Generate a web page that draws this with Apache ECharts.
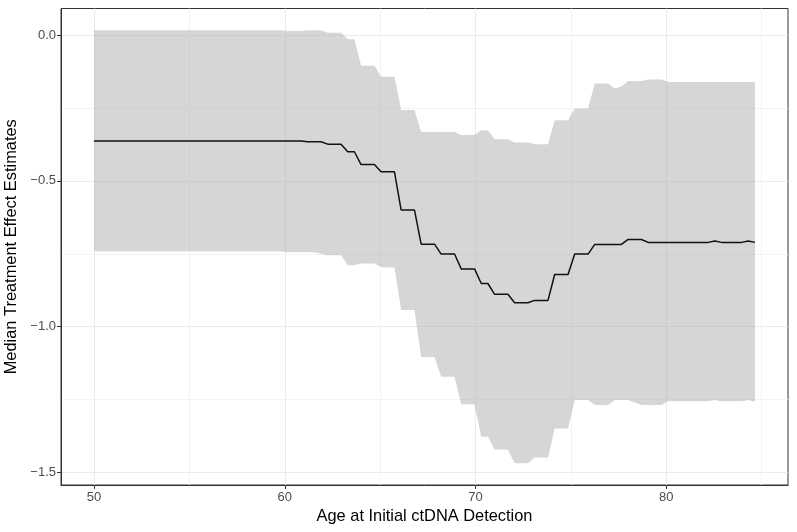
<!DOCTYPE html>
<html><head><meta charset="utf-8">
<script src="https://cdn.jsdelivr.net/npm/echarts@6/dist/echarts.min.js"></script>
<style>html,body{margin:0;padding:0;background:#fff}#c{width:797px;height:532px}</style>
</head><body><div id="c"></div>
<script>
const ages = [
  50, 50.35, 50.7, 51.05, 51.4, 51.75, 52.1, 52.45, 52.8, 53.15,
  53.5, 53.85, 54.2, 54.55, 54.9, 55.25, 55.6, 55.95, 56.3, 56.65,
  57, 57.35, 57.7, 58.05, 58.4, 58.75, 59.1, 59.45, 59.8, 60.15,
  60.5, 60.85, 61.2, 61.55, 61.9, 62.25, 62.6, 62.95, 63.3, 63.65,
  64, 64.35, 64.7, 65.05, 65.4, 65.75, 66.1, 66.45, 66.8, 67.15,
  67.5, 67.85, 68.2, 68.55, 68.9, 69.25, 69.6, 69.95, 70.3, 70.65,
  71, 71.35, 71.7, 72.05, 72.4, 72.75, 73.1, 73.45, 73.8, 74.15,
  74.5, 74.85, 75.2, 75.55, 75.9, 76.25, 76.6, 76.95, 77.3, 77.65,
  78, 78.35, 78.7, 79.05, 79.4, 79.75, 80.1, 80.45, 80.8, 81.15,
  81.5, 81.85, 82.2, 82.55, 82.9, 83.25, 83.6, 83.95, 84.3, 84.65
];
const median = [
  -0.363, -0.363, -0.363, -0.363, -0.363, -0.363, -0.363, -0.363, -0.363, -0.363,
  -0.363, -0.363, -0.363, -0.363, -0.363, -0.363, -0.363, -0.363, -0.363, -0.363,
  -0.363, -0.363, -0.363, -0.363, -0.363, -0.363, -0.363, -0.363, -0.363, -0.363,
  -0.363, -0.363, -0.366, -0.366, -0.366, -0.374, -0.374, -0.374, -0.400, -0.400,
  -0.444, -0.444, -0.444, -0.469, -0.469, -0.469, -0.600, -0.600, -0.600, -0.717,
  -0.717, -0.717, -0.751, -0.751, -0.751, -0.802, -0.802, -0.802, -0.852, -0.852,
  -0.889, -0.889, -0.889, -0.918, -0.918, -0.918, -0.910, -0.910, -0.910, -0.821,
  -0.821, -0.821, -0.751, -0.751, -0.751, -0.718, -0.718, -0.718, -0.718, -0.718,
  -0.701, -0.701, -0.701, -0.711, -0.711, -0.711, -0.711, -0.711, -0.711, -0.711,
  -0.711, -0.711, -0.711, -0.706, -0.711, -0.711, -0.711, -0.711, -0.706, -0.711
];
const upper = [
  0.017, 0.017, 0.017, 0.017, 0.017, 0.017, 0.017, 0.017, 0.017, 0.017,
  0.017, 0.017, 0.017, 0.017, 0.017, 0.017, 0.017, 0.017, 0.017, 0.017,
  0.017, 0.017, 0.017, 0.017, 0.017, 0.017, 0.017, 0.017, 0.017, 0.014,
  0.014, 0.014, 0.017, 0.017, 0.017, 0.008, 0.008, 0.008, -0.014, -0.014,
  -0.105, -0.105, -0.105, -0.143, -0.143, -0.143, -0.257, -0.257, -0.257, -0.332,
  -0.332, -0.332, -0.332, -0.332, -0.332, -0.343, -0.343, -0.343, -0.326, -0.326,
  -0.357, -0.357, -0.357, -0.368, -0.368, -0.368, -0.374, -0.374, -0.374, -0.292,
  -0.292, -0.292, -0.252, -0.252, -0.252, -0.166, -0.166, -0.166, -0.183, -0.176,
  -0.157, -0.157, -0.157, -0.152, -0.152, -0.152, -0.161, -0.161, -0.161, -0.161,
  -0.161, -0.161, -0.161, -0.161, -0.161, -0.161, -0.161, -0.161, -0.161, -0.161
];
const lower = [
  -0.741, -0.741, -0.741, -0.741, -0.741, -0.741, -0.741, -0.741, -0.741, -0.741,
  -0.741, -0.741, -0.741, -0.741, -0.741, -0.741, -0.741, -0.741, -0.741, -0.741,
  -0.741, -0.741, -0.741, -0.741, -0.741, -0.741, -0.741, -0.741, -0.741, -0.745,
  -0.745, -0.745, -0.745, -0.745, -0.750, -0.755, -0.755, -0.755, -0.789, -0.789,
  -0.783, -0.783, -0.783, -0.795, -0.797, -0.797, -0.943, -0.943, -0.943, -1.104,
  -1.104, -1.104, -1.172, -1.172, -1.172, -1.266, -1.266, -1.266, -1.378, -1.378,
  -1.421, -1.421, -1.421, -1.469, -1.469, -1.469, -1.449, -1.449, -1.449, -1.349,
  -1.349, -1.349, -1.252, -1.252, -1.252, -1.269, -1.269, -1.269, -1.252, -1.252,
  -1.252, -1.260, -1.269, -1.269, -1.269, -1.269, -1.256, -1.256, -1.256, -1.256,
  -1.256, -1.256, -1.256, -1.252, -1.256, -1.256, -1.256, -1.256, -1.252, -1.258
];
const xMajorTicks = [50, 60, 70, 80];
const xMinorTicks = [55, 65, 75, 85];
const yMajorTicks = [-1.5, -1.0, -0.5, 0.0];
const yMinorTicks = [-1.25, -0.75, -0.25];
const xTitle = 'Age at Initial ctDNA Detection';
const yTitle = 'Median Treatment Effect Estimates';

const FONT = '"Liberation Sans", Arial, sans-serif';
const XMIN = 48.2675, XMAX = 86.3825, YMIN = -1.5432, YMAX = 0.0913;
const fmtY = v => (v < 0 ? '\u2212' : '') + Math.abs(v).toFixed(1);

const chart = echarts.init(document.getElementById('c'), null, {renderer: 'canvas'});
chart.setOption({
  animation: false,
  backgroundColor: '#ffffff',
  grid: {left: 61, right: 9, top: 8.5, bottom: 47, show: true, borderColor: '#333333', borderWidth: 1, backgroundColor: 'transparent', containLabel: false, outerBoundsMode: 'none'},
  xAxis: [
    {
      type: 'value', min: XMIN, max: XMAX, position: 'bottom',
      axisLine: {show: true, onZero: false, lineStyle: {color: '#333333', width: 1}},
      axisTick: {show: true, length: 4, customValues: xMajorTicks, lineStyle: {color: '#333333', width: 1}},
      axisLabel: {customValues: xMajorTicks, color: '#4D4D4D', fontSize: 13, margin: 6, fontFamily: FONT},
      splitLine: {show: true, lineStyle: {color: '#EBEBEB', width: 1}},
      name: xTitle, nameLocation: 'middle', nameGap: 22,
      nameTextStyle: {color: '#000000', fontSize: 16.4, fontFamily: FONT}
    },
    {
      type: 'value', min: XMIN, max: XMAX, position: 'top',
      axisLine: {show: false}, axisTick: {show: false, customValues: xMinorTicks},
      axisLabel: {show: false, customValues: xMinorTicks},
      splitLine: {show: true, lineStyle: {color: '#F3F3F3', width: 1}}
    }
  ],
  yAxis: [
    {
      type: 'value', min: YMIN, max: YMAX, position: 'left',
      axisLine: {show: true, onZero: false, lineStyle: {color: '#333333', width: 1}},
      axisTick: {show: true, length: 4, customValues: yMajorTicks, lineStyle: {color: '#333333', width: 1}},
      axisLabel: {customValues: yMajorTicks, color: '#4D4D4D', fontSize: 13, margin: 5, fontFamily: FONT, formatter: fmtY},
      splitLine: {show: true, lineStyle: {color: '#EBEBEB', width: 1}},
      name: yTitle, nameLocation: 'middle', nameGap: 34, nameRotate: 90,
      nameTextStyle: {color: '#000000', fontSize: 16.4, fontFamily: FONT}
    },
    {
      type: 'value', min: YMIN, max: YMAX, position: 'right',
      axisLine: {show: false}, axisTick: {show: false, customValues: yMinorTicks},
      axisLabel: {show: false, customValues: yMinorTicks},
      splitLine: {show: true, lineStyle: {color: '#F3F3F3', width: 1}}
    }
  ],
  series: [
    {
      type: 'custom',
      xAxisIndex: 0, yAxisIndex: 0,
      data: ages.map((a, i) => [a, lower[i], upper[i]]),
      encode: {x: 0, y: [1, 2]},
      silent: true,
      z: 2,
      renderItem: function (params, api) {
        if (params.dataIndex !== 0) return null;
        const pts = [];
        for (let i = 0; i < ages.length; i++) pts.push(api.coord([ages[i], upper[i]]));
        for (let i = ages.length - 1; i >= 0; i--) pts.push(api.coord([ages[i], lower[i]]));
        return {type: 'polygon', shape: {points: pts}, style: {fill: 'rgba(173,173,173,0.5)'}};
      }
    },
    {
      type: 'line',
      xAxisIndex: 0, yAxisIndex: 0,
      data: ages.map((a, i) => [a, median[i]]),
      showSymbol: false, symbol: 'none',
      lineStyle: {color: '#111111', width: 1.5},
      silent: true,
      z: 3
    }
  ]
});
</script>
</body></html>
